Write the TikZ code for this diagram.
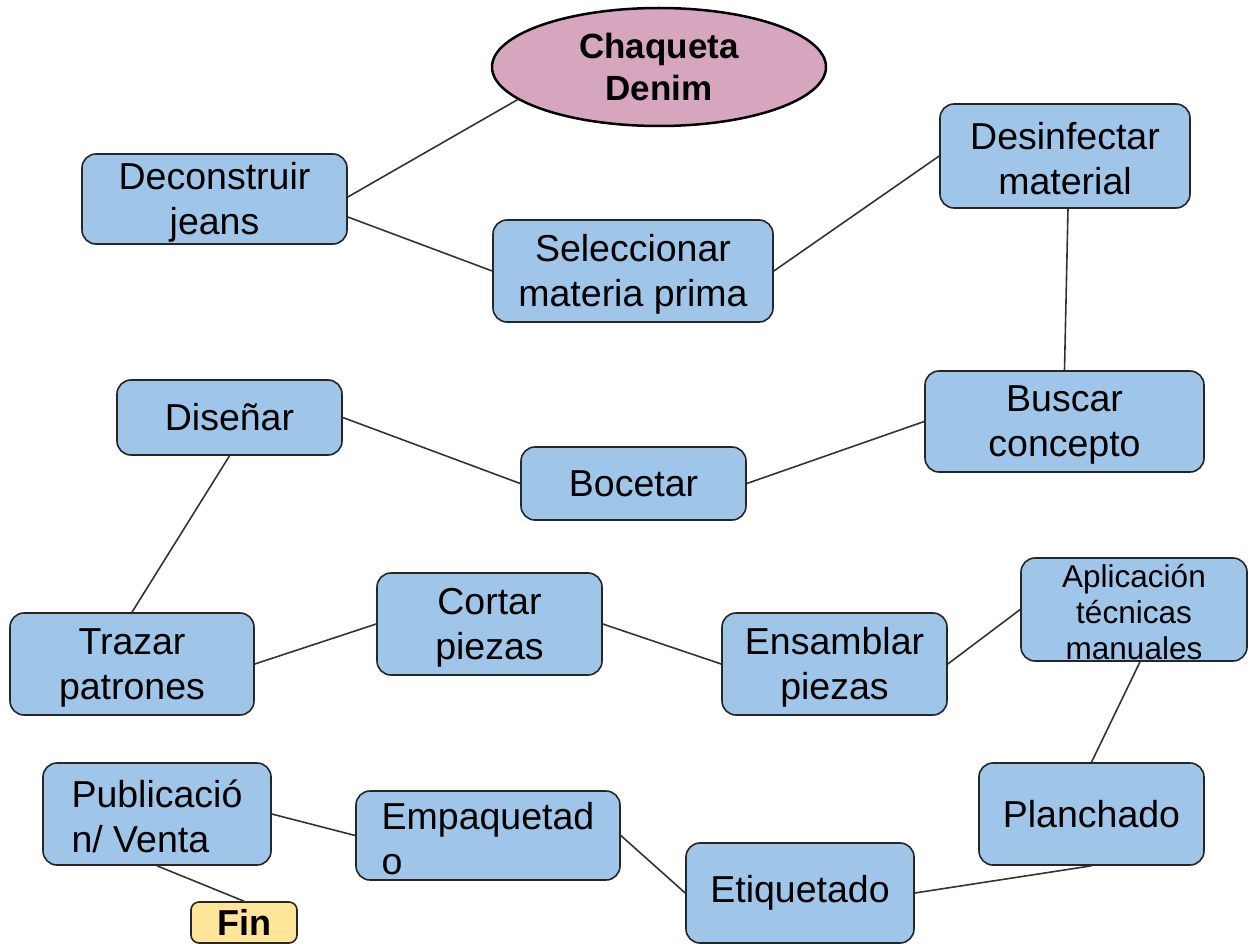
\documentclass[tikz,border=0pt]{standalone}
\usepackage{fontspec}
\setmainfont{Liberation Sans}
\usetikzlibrary{shapes.geometric}
\definecolor{boxblue}{HTML}{9FC5E8}
\definecolor{ellpink}{HTML}{D5A6BD}
\definecolor{finyellow}{HTML}{FFE599}
\newcommand{\tp}{\rule{0pt}{33pt}}
\tikzset{
  box/.style={draw=black!85, line width=1.6pt, rounded corners=14pt, fill=boxblue,
    inner sep=0pt, align=center, font=\fontsize{37.5}{45}\selectfont},
  link/.style={draw=black!80, line width=1.6pt},
}
\begin{document}
\begin{tikzpicture}[x=1pt,y=-1pt]
\useasboundingbox (0,0) rectangle (1250,944);
\node[draw=black, line width=2.5pt, ellipse, fill=ellpink, minimum width=334pt, minimum height=118pt,
  inner sep=0pt, align=center, font=\bfseries\fontsize{35}{42}\selectfont] (ell) at (659,67) {Chaqueta\\Denim};
\node[box, minimum width=265pt, minimum height=90pt] (dec) at (214.5,199) {\tp Deconstruir\\jeans};
\node[box, minimum width=280pt, minimum height=102pt] (sel) at (633,271) {\tp Seleccionar\\materia prima};
\node[box, minimum width=250pt, minimum height=104pt] (des) at (1065,156) {\tp Desinfectar\\material};
\node[box, minimum width=279pt, minimum height=101pt] (bus) at (1064.5,421.5) {\tp Buscar\\concepto};
\node[box, minimum width=225pt, minimum height=75pt] (dis) at (229.5,417.5) {Diseñar};
\node[box, minimum width=225pt, minimum height=73pt] (boc) at (633.5,483.5) {Bocetar};
\node[box, minimum width=244pt, minimum height=102pt] (tra) at (132,664) {\tp Trazar\\patrones};
\node[box, minimum width=225pt, minimum height=102pt] (cor) at (489.5,624) {\tp Cortar\\piezas};
\node[box, minimum width=225pt, minimum height=102pt] (ens) at (834.5,664) {\tp Ensamblar\\piezas};
\node[box, minimum width=226pt, minimum height=103pt, font=\fontsize{31.5}{36}\selectfont] (apl) at (1134,609.5) {\rule{0pt}{28pt}Aplicación\\técnicas\\manuales};
\node[box, minimum width=225pt, minimum height=102pt] (pla) at (1091.5,814) {Planchado};
\node[box, minimum width=228pt, minimum height=102pt, align=left] (pub) at (157,814) {\tp Publicació\\n/ Venta};
\node[box, minimum width=264pt, minimum height=89pt, align=left] (emp) at (488,835.5) {\tp Empaquetad\\o};
\node[box, minimum width=228pt, minimum height=100pt] (eti) at (800,893) {Etiquetado};
\node[box, fill=finyellow, rounded corners=8pt, minimum width=106pt, minimum height=41pt,
  font=\bfseries\fontsize{36}{40}\selectfont] (fin) at (244,922.5) {Fin};
\draw[link] ([yshift=2pt]dec.east) -- (ell.193);
\draw[link] ([yshift=-18pt]dec.east) -- (sel.west);
\draw[link] (sel.east) -- (des.west);
\draw[link] ([xshift=3pt]des.south) -- (bus.north);
\draw[link] (bus.west) -- (boc.east);
\draw[link] (boc.west) -- (dis.east);
\draw[link] (dis.south) -- (tra.north);
\draw[link] (tra.east) -- (cor.west);
\draw[link] (cor.east) -- (ens.west);
\draw[link] (ens.east) -- (apl.west);
\draw[link] ([xshift=6pt]apl.south) -- (pla.north);
\draw[link] (pla.south) -- (eti.east);
\draw[link] (eti.west) -- (emp.east);
\draw[link] (emp.west) -- (pub.east);
\draw[link] (pub.south) -- (fin.north);
\end{tikzpicture}
\end{document}
